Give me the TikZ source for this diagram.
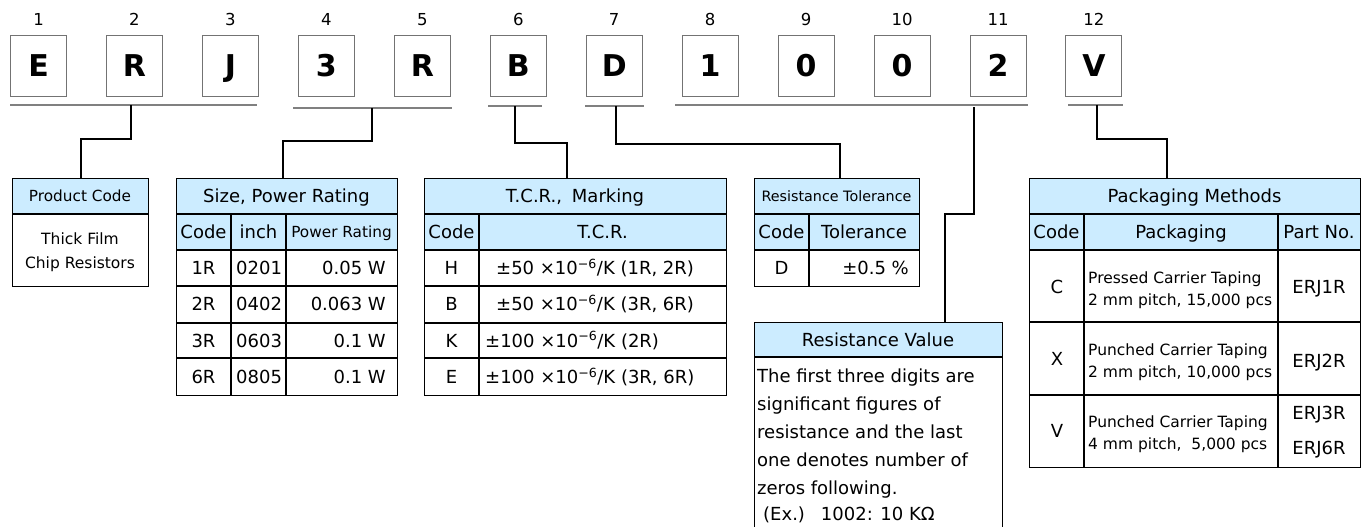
\documentclass[tikz,border=0pt]{standalone}
\usepackage{fontspec}
\setmainfont{DejaVu Sans}
\usetikzlibrary{positioning}
\definecolor{hdblue}{RGB}{204,236,255}
\def\fsz#1{\fontsize{#1}{#1}\selectfont}

\tikzset{
  digit/.style={draw=black!55, line width=1pt, minimum width=56pt, minimum height=60pt, inner sep=0pt, text height=22pt, text depth=0pt, font=\bfseries\fsz{30}},
  posnum/.style={inner sep=0pt, text height=12pt, text depth=0pt, font=\fsz{16.5}},
  under/.style={draw=black!50, line width=1.6pt},
  link/.style={draw=black, line width=1.8pt},
  frame/.style={draw=black, line width=1.2pt, inner sep=0pt, anchor=north west},
  grid/.style={line width=1.2pt},
  cell/.style={inner sep=0pt, text height=13pt, text depth=0pt, font=\fsz{18}},
  small/.style={inner sep=0pt, text height=11pt, text depth=0pt, font=\fsz{15.3}},
  twoline/.style={inner sep=0pt, anchor=west, align=left, font=\fontsize{15.5}{22}\selectfont},
}

\begin{document}
\begin{tikzpicture}[x=1pt, y=-1pt]
			%%%%% START %%%%%
			\useasboundingbox (0,0) rectangle (1367,527);
			
			% part number
			\foreach \ch [count=\i] in {E,R,J,3,R,B,D,1,0,0,2,V}{
				\node[digit] (d\i) at ({38.5+95.95*(\i-1)}, 66) {\ch};
				\node[posnum, yshift=16pt] (n\i) at (d\i.north) {\i};
			}
			
			% group lines
			\draw[under] (10,105) -- (257,105);
			\draw[under] (293,108) -- (452,108);
			\draw[under] (488,106) -- (542,106);
			\draw[under] (585,106) -- (644,106);
			\draw[under] (675,105) -- (1028,105);
			\draw[under] (1068,105) -- (1123,105);
			\coordinate (uProd) at (131,105);
			\coordinate (uSize) at (372,108);
			\coordinate (uTcr) at (515,106);
			\coordinate (uTol) at (616,106);
			\coordinate (uVal) at (974,107);
			\coordinate (uPack) at (1097,105);
			
			% header fills
			\fill[hdblue] (12,178) rectangle (148,214);
			\fill[hdblue] (176,178) rectangle (397,250);
			\fill[hdblue] (424,178) rectangle (726,250);
			\fill[hdblue] (754,178) rectangle (919,250);
			\fill[hdblue] (754,322) rectangle (1002,357);
			\fill[hdblue] (1029,178) rectangle (1360,250);
			
			% frames
			\node[frame, minimum width=136pt, minimum height=108pt] (tProd) at (12,178) {};
			\node[frame, minimum width=221pt, minimum height=217pt] (tSize) at (176,178) {};
			\node[frame, minimum width=302pt, minimum height=217pt] (tTcr) at (424,178) {};
			\node[frame, minimum width=165pt, minimum height=108pt] (tTol) at (754,178) {};
			\node[frame, minimum width=248pt, minimum height=212pt] (tVal) at (754,322) {};
			\node[frame, minimum width=331pt, minimum height=289pt] (tPack) at (1029,178) {};
			
			% connectors
			\draw[link] (uProd) -- ++(0,34) -| (tProd.north);
			\draw[link] (uSize) -- ++(0,33) -| ([xshift=-4.5pt]tSize.north);
			\draw[link] (uTcr) -- ++(0,37) -| ([xshift=-9pt]tTcr.north);
			\draw[link] (uTol) -- ++(0,38) -| ([xshift=2.5pt]tTol.north);
			\draw[link] (uVal) -- ++(0,107) -| ([xshift=66pt]tVal.north);
			\draw[link] (uPack) -- ++(0,34) -| ([xshift=-28.5pt]tPack.north);
			
			% grid lines
			\draw[grid] (12,214) -- (148,214);
			\foreach \yy in {214,250,286,323,358}{
				\draw[grid] (176,\yy) -- (397,\yy);
				\draw[grid] (424,\yy) -- (726,\yy);
			}
			\foreach \xx in {231,286} \draw[grid] (\xx,214) -- (\xx,395);
			\draw[grid] (479,214) -- (479,395);
			\draw[grid] (754,214) -- (919,214);
			\draw[grid] (754,250) -- (919,250);
			\draw[grid] (809,214) -- (809,286);
			\draw[grid] (754,357) -- (1002,357);
			\foreach \yy in {214,250,322,395} \draw[grid] (1029,\yy) -- (1360,\yy);
			\foreach \xx in {1084,1278} \draw[grid] (\xx,214) -- (\xx,467);
			
			% product code
			\node[small] (hProd) at (80,196) {Product Code};
			\node[inner sep=0pt, align=center, font=\fontsize{15.5}{24}\selectfont] (bProd) at (80,252) {Thick Film\\Chip Resistors};
			
			% size, power rating
			\node[cell] (hSize) at (286.5,196) {Size, Power Rating};
			\node[cell] (hs1) at (203.5,232) {Code};
			\node[cell] (hs2) at (258.5,232) {inch};
			\node[small] (hs3) at (341.5,232) {Power Rating};
			\foreach \code/\inch/\pw [count=\r] in {1R/0201/0.05 W,2R/0402/0.063 W,3R/0603/0.1 W,6R/0805/0.1 W}{
				\node[cell] (sc\r) at (203.5,{232+36.2*\r}) {\code};
				\node[cell, anchor=west] (si\r) at (236,{232+36.2*\r}) {\inch};
				\node[cell, anchor=east] (sp\r) at (386,{232+36.2*\r}) {\pw};
			}
			
			% t.c.r.
			\node[cell] (hTcr) at (575,196) {T.C.R.,\hspace{0.55em}Marking};
			\node[cell] (ht1) at (451.5,232) {Code};
			\node[cell] (ht2) at (602.5,232) {T.C.R.};
			\foreach \code/\val/\sz/\xx [count=\r] in {H/50/{1R, 2R}/496,B/50/{3R, 6R}/496,K/100/{2R}/485,E/100/{3R, 6R}/485}{
				\node[cell] (tc\r) at (451.5,{232+36.2*\r}) {\code};
				\node[cell, anchor=west] (tv\r) at (\xx,{232+36.2*\r}) {±\val\ ×10\textsuperscript{−6}/K (\sz)};
			}
			
			% tolerance
			\node[inner sep=0pt, text height=10.5pt, text depth=0pt, font=\fsz{14.3}] (hTol) at (836.5,196) {Resistance Tolerance};
			\node[cell] (hl1) at (781.5,232) {Code};
			\node[cell] (hl2) at (864,232) {Tolerance};
			\node[cell] (lc1) at (781.5,268) {D};
			\node[cell, anchor=east] (lv1) at (909,268) {±0.5 \%};
			
			% resistance value
			\node[cell] (hVal) at (878,339.5) {Resistance Value};
			\foreach \t [count=\k] in {The first three digits are,significant figures of,resistance and the last,one denotes number of,zeros following.}
				\node[inner sep=0pt, anchor=base west, font=\fsz{18}] (v\k) at (757,{354+28*\k}) {\t};
			\node[inner sep=0pt, anchor=base west, font=\fsz{18}] (v6) at (763,520) {(Ex.)\hspace{16pt}1002: 10 KΩ};
			
			% packaging
			\node[cell] (hPack) at (1194.5,196) {Packaging Methods};
			\node[cell] (hp1) at (1056.5,232) {Code};
			\node[cell] (hp2) at (1181,232) {Packaging};
			\node[cell] (hp3) at (1319,232) {Part No.};
			\node[cell] (pc1) at (1057,287) {C};
			\node[twoline] (pt1) at (1088,290) {Pressed Carrier Taping\\2 mm pitch, 15,000 pcs};
			\node[cell] (pn1) at (1319,287) {ERJ1R};
			\node[cell] (pc2) at (1057,359) {X};
			\node[twoline] (pt2) at (1088,362) {Punched Carrier Taping\\2 mm pitch, 10,000 pcs};
			\node[cell] (pn2) at (1319,361) {ERJ2R};
			\node[cell] (pc3) at (1057,431) {V};
			\node[twoline] (pt3) at (1088,434) {Punched Carrier Taping\\4 mm pitch,\ \ 5,000 pcs};
			\node[cell] (pn3) at (1319,413) {ERJ3R};
			\node[cell] (pn4) at (1319,448) {ERJ6R};
			
			%%%%% END %%%%%
\end{tikzpicture}
\end{document}
